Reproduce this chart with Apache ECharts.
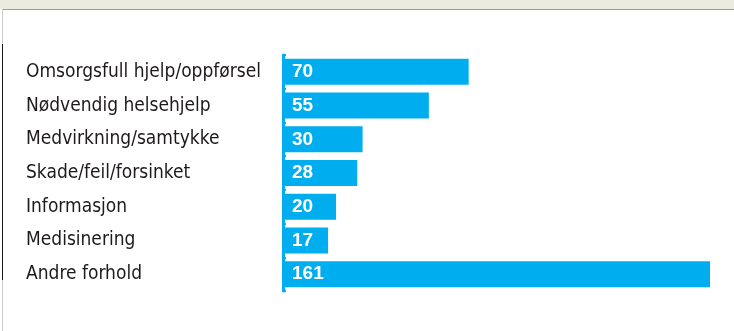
<!DOCTYPE html>
<html>
<head>
<meta charset="utf-8">
<script src="https://cdn.jsdelivr.net/npm/echarts@6/dist/echarts.min.js"></script>
<style>
html,body{margin:0;padding:0;background:#fff;}
#chart{width:734px;height:331px;}
</style>
</head>
<body>
<div id="chart"></div>
<script>
const categories = [
  "Omsorgsfull hjelp/oppførsel",
  "Nødvendig helsehjelp",
  "Medvirkning/samtykke",
  "Skade/feil/forsinket",
  "Informasjon",
  "Medisinering",
  "Andre forhold"
];
const values = [70, 55, 30, 28, 20, 17, 161];

const BLUE = "#00AEEF";
const chart = echarts.init(document.getElementById("chart"), null, {renderer: "canvas"});
chart.setOption({
  animation: false,
  backgroundColor: "#ffffff",
  grid: {left: 283, right: 24, top: 55, bottom: 40, containLabel: false},
  xAxis: {
    type: "value", min: 0, max: "dataMax",
    show: false
  },
  yAxis: {
    type: "category",
    data: categories,
    inverse: true,
    axisLine: {show: true, lineStyle: {color: BLUE, width: 3}},
    axisTick: {show: true, inside: true, length: 3, lineStyle: {color: BLUE, width: 2}},
    axisLabel: {
      align: "left",
      margin: 257,
      color: "#1E1A1B",
      fontFamily: "'DejaVu Sans Condensed', 'DejaVu Sans', sans-serif",
      fontSize: 19
    },
    splitLine: {show: false}
  },
  series: [{
    type: "bar",
    data: values,
    barWidth: 26,
    itemStyle: {color: BLUE},
    label: {
      show: true,
      position: "insideLeft",
      distance: 9,
      color: "#ffffff",
      fontFamily: "'Liberation Sans', Arial, sans-serif",
      fontWeight: "bold",
      fontSize: 19
    }
  }],
  graphic: [
    {type: "rect", shape: {x: 0, y: 0, width: 734, height: 9}, style: {fill: "#EBEBDF"}, silent: true},
    {type: "line", shape: {x1: 2, y1: 9.5, x2: 734, y2: 9.5}, style: {stroke: "#9C9C96", lineWidth: 1}, silent: true},
    {type: "line", shape: {x1: 2.5, y1: 9, x2: 2.5, y2: 331}, style: {stroke: "#C8C8C8", lineWidth: 1}, silent: true},
    {type: "line", shape: {x1: 2.5, y1: 44, x2: 2.5, y2: 280}, style: {stroke: "#1A1A1A", lineWidth: 1}, silent: true}
  ]
});
</script>
</body>
</html>
